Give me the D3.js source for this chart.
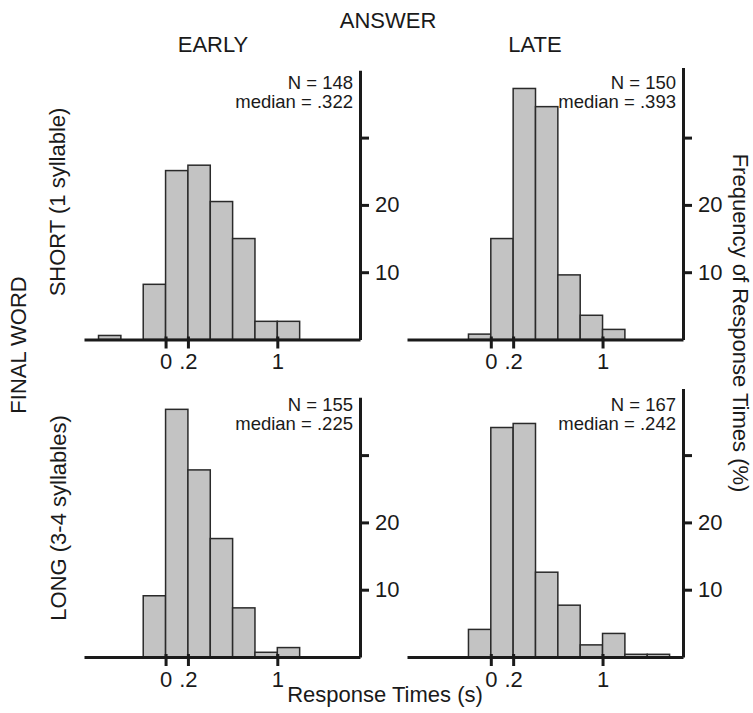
<!DOCTYPE html>
<html>
<head>
<meta charset="utf-8">
<script src="https://cdn.jsdelivr.net/npm/d3@7"></script>
<style>
  body { margin: 0; background: #fff; }
  text { font-family: "Liberation Sans", Arial, sans-serif; fill: #1a1a1a; }
</style>
</head>
<body>
<div id="chart"></div>
<script>
// bin width in seconds, each series starts at its own first bin
const binWidth = 0.2;
const panelNames = ["earlyShort", "lateShort", "earlyLong", "lateLong"];
const binStarts = [-0.6, -0.2, -0.2, -0.2];
const earlyShort = [0.6, 0, 8.2, 25.1, 25.9, 20.5, 15.0, 2.7, 2.7];
const lateShort = [0.8, 15.0, 37.3, 34.6, 9.6, 3.6, 1.5];
const earlyLong = [9.1, 36.8, 27.8, 17.6, 7.3, 0.7, 1.4];
const lateLong = [4.1, 34.1, 34.7, 12.6, 7.7, 1.8, 3.5, 0.4, 0.4];
const nValues = [148, 150, 155, 167];
const medians = [".322", ".393", ".225", ".242"];
const axisTops = [40, 40.4, 38.6, 39.9];
const xTicks = [0, 0.2, 1];
const xTickLabels = ["0", ".2", "1"];
const yTicks = [10, 20, 30];
const yTickLabels = ["10", "20", ""];
const colLabels = ["EARLY", "LATE"];
const rowLabels = ["SHORT (1 syllable)", "LONG (3-4 syllables)"];

const series = [earlyShort, lateShort, earlyLong, lateLong];

const width = 753, height = 713;
const pxPerPct = 6.73;
const cols = [
  { domain: [-0.73, 1.74], range: [84, 360] },
  { domain: [-0.75, 1.72], range: [407, 683] }
];
const rowBase = [339.5, 657];
const textBase = [89, 411];
const font = "'Liberation Sans', Arial, sans-serif";

const svg = d3.select("#chart")
  .append("svg")
  .attr("width", width)
  .attr("height", height);

panelNames.forEach((name, i) => {
  const col = i % 2, row = Math.floor(i / 2);
  const base = rowBase[row];

  const x = d3.scaleLinear().domain(cols[col].domain).range(cols[col].range);
  const y = d3.scaleLinear()
    .domain([0, axisTops[i]])
    .range([base, base - axisTops[i] * pxPerPct]);

  const bins = series[i]
    .map((v, k) => ({ x0: binStarts[i] + k * binWidth, x1: binStarts[i] + (k + 1) * binWidth, v: v }))
    .filter((d) => d.v > 0);

  const g = svg.append("g").attr("class", name);

  g.selectAll("rect")
    .data(bins)
    .join("rect")
    .attr("x", (d) => x(d.x0))
    .attr("width", (d) => x(d.x1) - x(d.x0))
    .attr("y", (d) => y(d.v))
    .attr("height", (d) => y(0) - y(d.v))
    .attr("fill", "#c3c3c3")
    .attr("stroke", "#2a2a2a")
    .attr("stroke-width", 1.5);

  // x axis
  const xAxis = g.append("g")
    .attr("transform", `translate(0,${base})`)
    .call(d3.axisBottom(x)
      .tickValues(xTicks)
      .tickSize(9)
      .tickSizeOuter(0)
      .tickPadding(5)
      .tickFormat((d, k) => xTickLabels[k]));
  xAxis.select(".domain").attr("stroke", "#1a1a1a").attr("stroke-width", 3);
  xAxis.selectAll(".tick line").attr("y1", -3).attr("stroke", "#1a1a1a").attr("stroke-width", 3);
  xAxis.selectAll(".tick text")
    .style("font-size", "22px")
    .style("font-family", font)
    .attr("fill", "#1a1a1a");

  // y axis on the right
  const yAxis = g.append("g")
    .attr("transform", `translate(${cols[col].range[1]},0)`)
    .call(d3.axisRight(y)
      .tickValues(yTicks)
      .tickSize(9)
      .tickSizeOuter(0)
      .tickPadding(6)
      .tickFormat((d, k) => yTickLabels[k]));
  yAxis.select(".domain").attr("stroke", "#1a1a1a").attr("stroke-width", 3);
  yAxis.selectAll(".tick line").attr("stroke", "#1a1a1a").attr("stroke-width", 3);
  yAxis.selectAll(".tick text")
    .style("font-size", "22px")
    .style("font-family", font)
    .attr("fill", "#1a1a1a");

  // N and median
  const tx = cols[col].range[1] - 7;
  g.append("text")
    .attr("x", tx)
    .attr("y", textBase[row])
    .attr("text-anchor", "end")
    .style("font-size", "18.5px")
    .text("N = " + nValues[i]);
  g.append("text")
    .attr("x", tx)
    .attr("y", textBase[row] + 19)
    .attr("text-anchor", "end")
    .style("font-size", "18.5px")
    .text("median = " + medians[i]);
});

// titles
svg.append("text")
  .attr("x", 388).attr("y", 28)
  .attr("text-anchor", "middle")
  .style("font-size", "22px")
  .text("ANSWER");

[213, 535].forEach((cx, k) => {
  svg.append("text")
    .attr("x", cx).attr("y", 52)
    .attr("text-anchor", "middle")
    .style("font-size", "22px")
    .text(colLabels[k]);
});

[[65, 202], [66, 518]].forEach(([bx, cy], k) => {
  svg.append("text")
    .attr("transform", `translate(${bx},${cy})rotate(-90)`)
    .attr("text-anchor", "middle")
    .style("font-size", "22px")
    .text(rowLabels[k]);
});

svg.append("text")
  .attr("transform", "translate(26,345)rotate(-90)")
  .attr("text-anchor", "middle")
  .style("font-size", "22px")
  .text("FINAL WORD");

svg.append("text")
  .attr("transform", "translate(733,323)rotate(90)")
  .attr("text-anchor", "middle")
  .style("font-size", "22px")
  .text("Frequency of Response Times (%)");

svg.append("text")
  .attr("x", 385).attr("y", 702)
  .attr("text-anchor", "middle")
  .style("font-size", "22px")
  .text("Response Times (s)");
</script>
</body>
</html>
